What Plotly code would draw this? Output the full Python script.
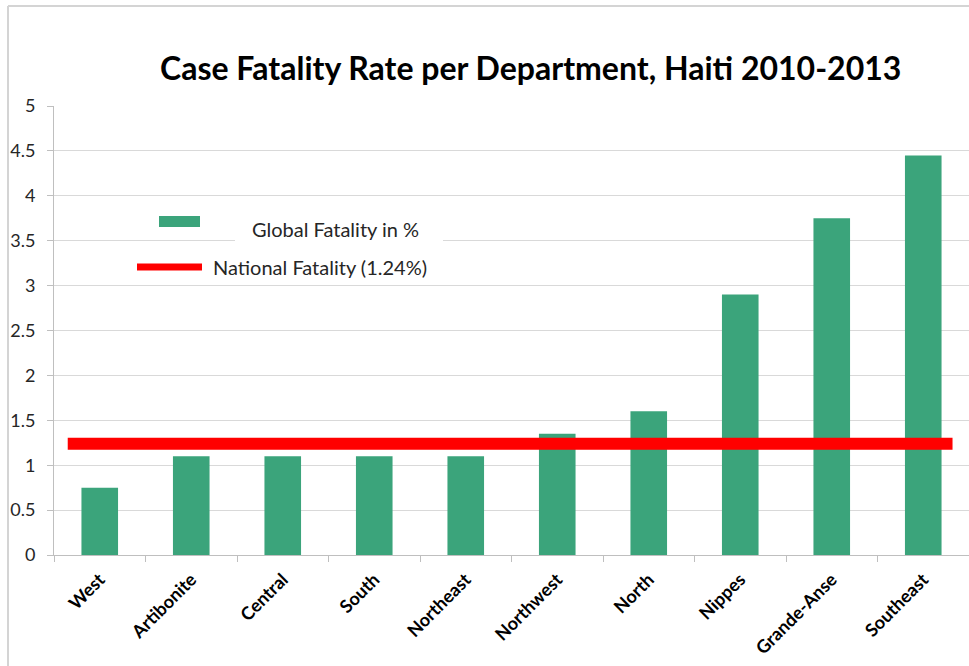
import plotly.graph_objects as go

# Case fatality data per department (percent)
departments = ["West", "Artibonite", "Central", "South", "Northeast",
               "Northwest", "North", "Nippes", "Grande-Anse", "Southeast"]
fatality_pct = [0.75, 1.10, 1.10, 1.10, 1.10, 1.35, 1.60, 2.90, 3.75, 4.45]
national_pct = 1.24
y_ticks = [0, 0.5, 1, 1.5, 2, 2.5, 3, 3.5, 4, 4.5, 5]

title_text = "Case Fatality Rate per Department, Haiti 2010-2013"
bar_name = "Global Fatality in %"
line_name = f"National Fatality ({national_pct}%)"

BAR_COLOR = "#3ba47b"
LINE_COLOR = "#ff0000"
GRID_COLOR = "#d9d9d9"
AXIS_COLOR = "#bfbfbf"

W, H = 969, 666
L, R, T, B = 54, 0, 106, 111
PW, PH = W - L - R, H - T - B


def px(x):
    return (x - L) / PW


def py(y):
    return (H - B - y) / PH


fig = go.Figure()
fig.add_trace(go.Bar(
    x=departments, y=fatality_pct, name=bar_name,
    marker=dict(color=BAR_COLOR, line=dict(width=0)),
    showlegend=False,
))

shapes = []
# National fatality reference line
shapes.append(dict(type="line", xref="x", yref="y",
                   x0=-0.35, x1=len(departments) - 0.68,
                   y0=national_pct, y1=national_pct,
                   line=dict(color=LINE_COLOR, width=12), layer="above"))

# Legend box and swatches
shapes.append(dict(type="rect", xref="paper", yref="paper",
                   x0=px(235), x1=px(443), y0=py(280), y1=py(205),
                   fillcolor="white", line=dict(width=0), layer="above"))
shapes.append(dict(type="rect", xref="paper", yref="paper",
                   x0=px(159), x1=px(200), y0=py(227), y1=py(216),
                   fillcolor=BAR_COLOR, line=dict(width=0), layer="above"))
shapes.append(dict(type="line", xref="paper", yref="paper",
                   x0=px(137), x1=px(202), y0=py(267), y1=py(267),
                   line=dict(color=LINE_COLOR, width=7), layer="above"))

# Chart frame (top and left edges)
shapes.append(dict(type="line", xref="paper", yref="paper",
                   x0=px(8), x1=px(975), y0=py(6), y1=py(6),
                   line=dict(color="#d4d4d4", width=2), layer="below"))
shapes.append(dict(type="line", xref="paper", yref="paper",
                   x0=px(8), x1=px(8), y0=py(6), y1=py(672),
                   line=dict(color="#d4d4d4", width=2), layer="below"))

annotations = [
    dict(text=title_text, xref="paper", yref="paper",
         x=px(530), y=py(68), xanchor="center", yanchor="middle",
         showarrow=False,
         font=dict(family="Lato", size=32, color="#000000", weight="bold")),
    dict(text=bar_name, xref="paper", yref="paper",
         x=px(250), y=py(229), xanchor="left", yanchor="middle",
         showarrow=False, font=dict(family="Lato", size=20, color="#262626")),
    dict(text=line_name, xref="paper", yref="paper",
         x=px(211), y=py(267), xanchor="left", yanchor="middle",
         showarrow=False, font=dict(family="Lato", size=20, color="#262626")),
]

fig.update_layout(
    width=W, height=H,
    margin=dict(l=L, r=R, t=T, b=B, pad=0),
    paper_bgcolor="white", plot_bgcolor="white",
    bargap=0.6,
    shapes=shapes, annotations=annotations,
    showlegend=False,
    xaxis=dict(
        type="category", tickangle=-45, tickson="boundaries",
        ticks="outside", ticklen=6, tickcolor=AXIS_COLOR,
        showline=True, linecolor=AXIS_COLOR, linewidth=1,
        showgrid=False,
        tickfont=dict(family="Lato", size=18, color="#000000", weight="bold"),
        ticklabelstandoff=6,
        range=[-0.5, len(departments) - 0.5],
    ),
    yaxis=dict(
        range=[0, 5], tickvals=y_ticks, ticktext=[f"{v:g}" for v in y_ticks],
        ticks="outside", ticklen=6, tickcolor=AXIS_COLOR,
        showline=True, linecolor=AXIS_COLOR, linewidth=1,
        showgrid=True, gridcolor=GRID_COLOR, gridwidth=1,
        zeroline=False,
        tickfont=dict(family="Lato", size=18, color="#262626"),
        ticklabelstandoff=8,
    ),
)

fig.write_html("out.html")
